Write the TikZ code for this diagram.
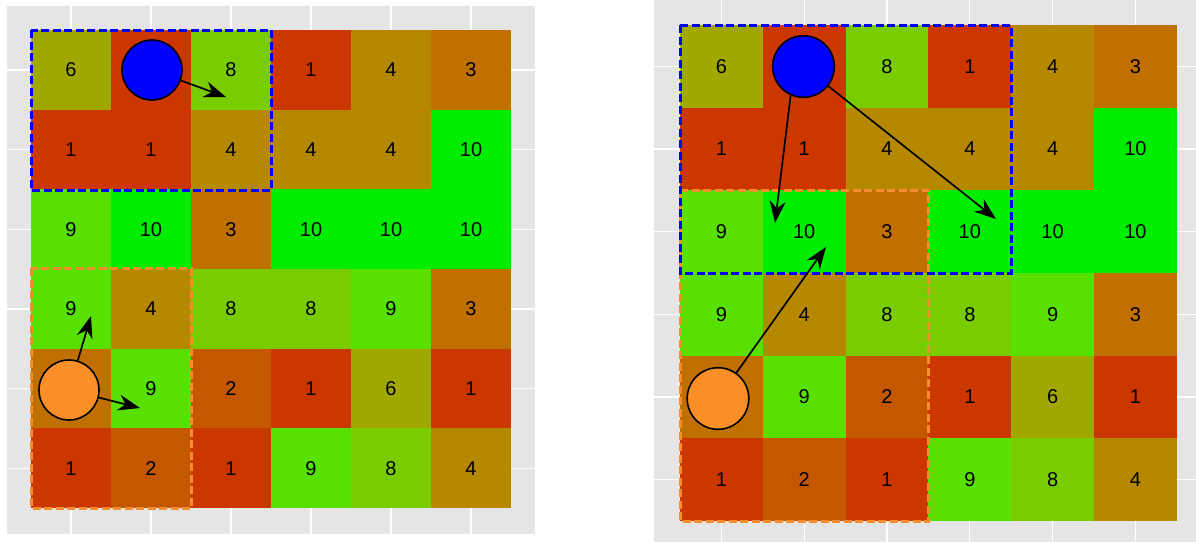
\documentclass[tikz,border=0pt]{standalone}
\usepackage{fontspec}
\setmainfont{Liberation Sans}
\usetikzlibrary{arrows.meta}
\definecolor{c1}{RGB}{204,55,0}
\definecolor{c2}{RGB}{196,88,0}
\definecolor{c3}{RGB}{192,112,0}
\definecolor{c4}{RGB}{182,136,0}
\definecolor{c6}{RGB}{160,168,0}
\definecolor{c8}{RGB}{120,204,0}
\definecolor{c9}{RGB}{88,224,0}
\definecolor{c10}{RGB}{0,236,0}
\definecolor{bggray}{RGB}{229,229,229}
\definecolor{myorange}{RGB}{250,143,40}
\definecolor{dashorange}{RGB}{245,140,45}
\begin{document}
\begin{tikzpicture}[x=1pt,y=-1pt,
  lbl/.style={font=\fontsize{20}{22}\selectfont, text=black, inner sep=0pt},
  gridline/.style={white, line width=1.2pt},
  bluebox/.style={draw=blue, line width=3pt, dash pattern=on 8pt off 3.5pt},
  orangebox/.style={draw=dashorange, line width=3pt, dash pattern=on 8pt off 3.5pt},
  agent/.style={circle, draw=black, line width=1.6pt, minimum size=60pt, inner sep=0pt},
  arr/.style={black, line width=1.7pt, -{Stealth[length=22pt,width=16pt]}}]
\useasboundingbox (0,0) rectangle (1196,542);
% backgrounds
\fill[bggray] (7,6) rectangle (535,534);
\fill[bggray] (654,0) rectangle (1196,542);
% grid lines
\foreach \k in {0,...,5} {
  \draw[gridline] ({71+80*\k},6) -- ({71+80*\k},534);
  \draw[gridline] (7,{70+79.67*\k}) -- (535,{70+79.67*\k});
  \draw[gridline] ({721.4+82.8*\k},0) -- ({721.4+82.8*\k},542);
  \draw[gridline] (654,{66.3+82.67*\k}) -- (1196,{66.3+82.67*\k});
}
% cells
\foreach \row [count=\r from 0] in {{6,1,8,1,4,3},{1,1,4,4,4,10},{9,10,3,10,10,10},{9,4,8,8,9,3},{3,9,2,1,6,1},{1,2,1,9,8,4}} {
  \foreach \v [count=\c from 0] in \row {
    \fill[c\v] ({31+80*\c},{30+79.67*\r}) rectangle ++(80.3,80);
    \node[lbl] (L-\r-\c) at ({71+80*\c},{70+79.67*\r}) {\v};
    \fill[c\v] ({680+82.8*\c},{25+82.67*\r}) rectangle ++(83.1,83);
    \node[lbl] (R-\r-\c) at ({721.4+82.8*\c},{66.3+82.67*\r}) {\v};
  }
}
% dashed regions
\draw[orangebox] (31,268) rectangle (191,508);
\draw[bluebox] (31,30) rectangle (271,190);
\draw[orangebox] (680,190) rectangle (928,521);
\draw[bluebox] (680,25) rectangle (1011,273);
% agents
\node[agent, fill=blue] (lb) at (152,70) {};
\node[agent, fill=myorange] (lo) at (69,390) {};
\node[agent, fill=blue, minimum size=61.6pt] (rb) at (803.5,66.5) {};
\node[agent, fill=myorange, minimum size=61.6pt] (ro) at (718,398.5) {};
% targets
\coordinate (lbt) at (226,97);
\coordinate (lot1) at (91,316);
\coordinate (lot2) at (140,408);
\coordinate (rbt1) at (775,223);
\coordinate (rbt2) at (996,219);
\coordinate (rot) at (826,247);
% arrows
\draw[arr] (lb) -- (lbt);
\draw[arr] (lo) -- (lot1);
\draw[arr] (lo) -- (lot2);
\draw[arr] (rb.246) -- (rbt1);
\draw[arr] (rb) -- (rbt2);
\draw[arr] (ro) -- (rot);
\end{tikzpicture}
\end{document}
